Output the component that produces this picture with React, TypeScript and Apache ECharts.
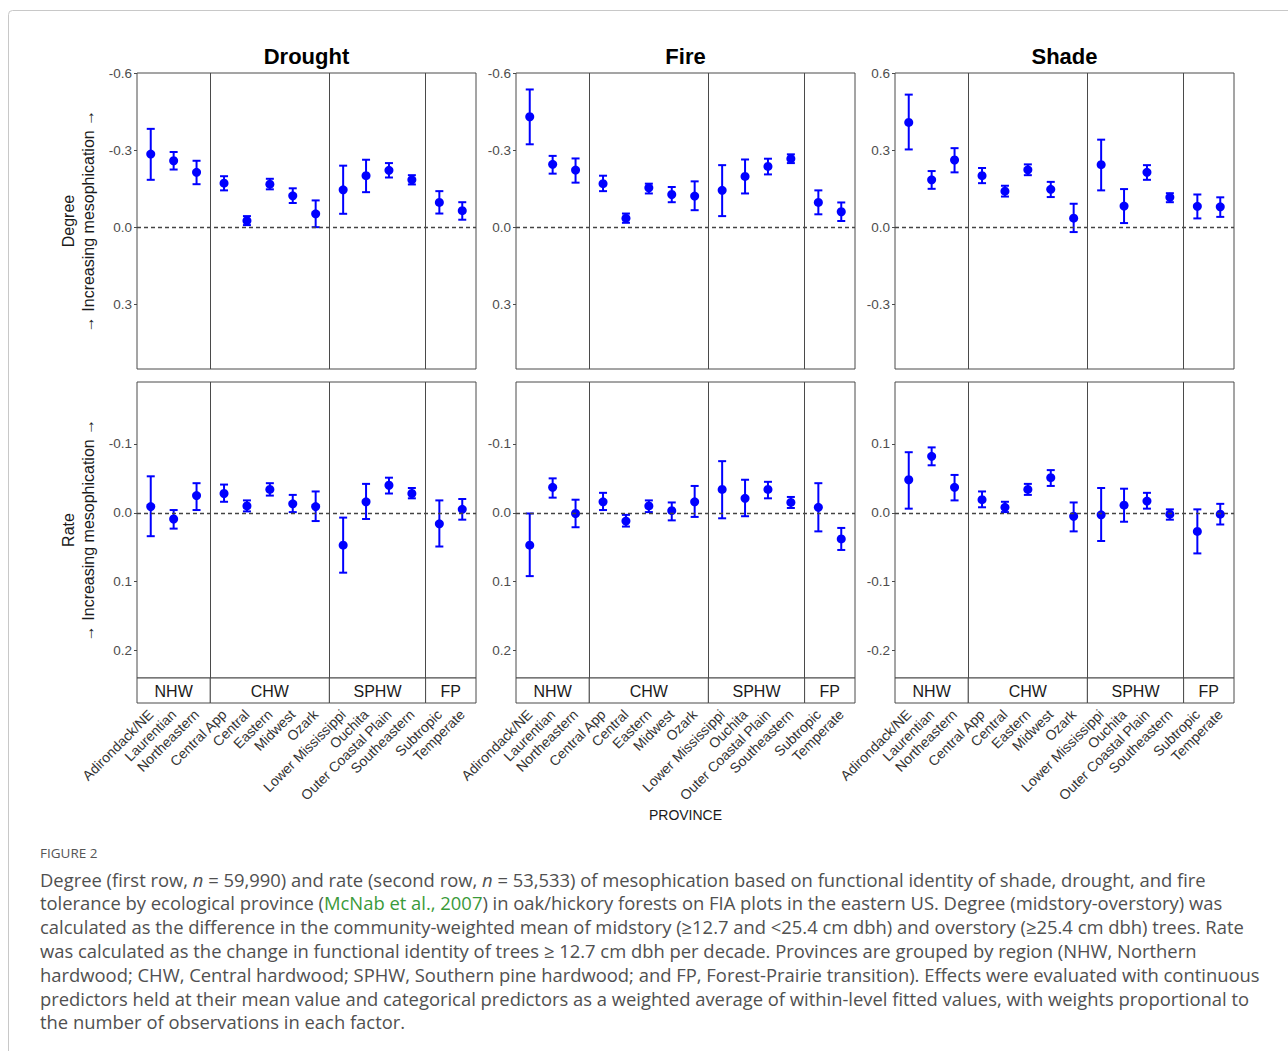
import React, { useEffect, useRef } from "react";
import * as echarts from "echarts";

// ---------------- DATA ----------------
const provinces = [
  "Adirondack/NE", "Laurentian", "Northeastern",
  "Central App", "Central", "Eastern", "Midwest", "Ozark",
  "Lower Mississippi", "Ouchita", "Outer Coastal Plain", "Southeastern",
  "Subtropic", "Temperate",
];
const regions = ["NHW", "CHW", "SPHW", "FP"];
const regionSizes = [3, 5, 4, 2];
const panelTitles = ["Drought", "Fire", "Shade"];

const degreeTicksNeg = [-0.6, -0.3, 0, 0.3];
const degreeTicksPos = [-0.3, 0, 0.3, 0.6];
const rateTicksNeg = [-0.1, 0, 0.1, 0.2];
const rateTicksPos = [-0.2, -0.1, 0, 0.1];

// Degree (first row)
const droughtDegreeEst = [-0.285, -0.259, -0.214, -0.172, -0.026, -0.168, -0.123, -0.053, -0.146, -0.201, -0.222, -0.185, -0.097, -0.065];
const droughtDegreeLo = [-0.383, -0.293, -0.259, -0.199, -0.044, -0.189, -0.152, -0.105, -0.240, -0.263, -0.250, -0.203, -0.141, -0.098];
const droughtDegreeHi = [-0.185, -0.225, -0.168, -0.144, -0.009, -0.148, -0.095, -0.001, -0.053, -0.137, -0.194, -0.167, -0.054, -0.030];

const fireDegreeEst = [-0.430, -0.245, -0.223, -0.170, -0.036, -0.154, -0.128, -0.122, -0.144, -0.198, -0.237, -0.267, -0.097, -0.061];
const fireDegreeLo = [-0.536, -0.278, -0.268, -0.201, -0.054, -0.170, -0.157, -0.179, -0.242, -0.264, -0.267, -0.284, -0.144, -0.097];
const fireDegreeHi = [-0.323, -0.209, -0.174, -0.141, -0.018, -0.132, -0.098, -0.067, -0.044, -0.132, -0.206, -0.250, -0.051, -0.025];

const shadeDegreeEst = [0.408, 0.185, 0.262, 0.201, 0.141, 0.224, 0.148, 0.036, 0.244, 0.083, 0.214, 0.117, 0.082, 0.080];
const shadeDegreeLo = [0.303, 0.150, 0.214, 0.172, 0.120, 0.203, 0.118, -0.018, 0.144, 0.017, 0.185, 0.098, 0.035, 0.041];
const shadeDegreeHi = [0.516, 0.219, 0.308, 0.231, 0.162, 0.245, 0.177, 0.092, 0.341, 0.149, 0.242, 0.133, 0.128, 0.117];

// Rate (second row)
const droughtRateEst = [-0.009, 0.009, -0.025, -0.028, -0.010, -0.034, -0.013, -0.009, 0.047, -0.016, -0.040, -0.028, 0.016, -0.005];
const droughtRateLo = [-0.053, -0.004, -0.043, -0.041, -0.018, -0.043, -0.026, -0.031, 0.007, -0.042, -0.051, -0.036, -0.018, -0.020];
const droughtRateHi = [0.034, 0.023, -0.004, -0.016, -0.002, -0.025, -0.001, 0.012, 0.087, 0.009, -0.028, -0.021, 0.049, 0.010];

const fireRateEst = [0.047, -0.037, 0.001, -0.016, 0.012, -0.010, -0.003, -0.016, -0.034, -0.021, -0.034, -0.015, -0.008, 0.038];
const fireRateLo = [0.001, -0.050, -0.019, -0.029, 0.003, -0.018, -0.015, -0.039, -0.075, -0.048, -0.045, -0.023, -0.043, 0.022];
const fireRateHi = [0.092, -0.022, 0.021, -0.004, 0.020, -0.001, 0.011, 0.006, 0.008, 0.005, -0.021, -0.007, 0.027, 0.054];

const shadeRateEst = [0.048, 0.082, 0.037, 0.019, 0.008, 0.034, 0.051, -0.005, -0.003, 0.011, 0.017, -0.002, -0.027, -0.002];
const shadeRateLo = [0.006, 0.069, 0.018, 0.008, 0.001, 0.026, 0.039, -0.027, -0.041, -0.013, 0.006, -0.010, -0.059, -0.017];
const shadeRateHi = [0.088, 0.095, 0.055, 0.031, 0.016, 0.042, 0.062, 0.015, 0.036, 0.035, 0.029, 0.005, 0.005, 0.013];

const captionLines = [
  "Degree (first row, {i|n} = 59,990) and rate (second row, {i|n} = 53,533) of mesophication based on functional identity of shade, drought, and fire",
  "tolerance by ecological province ({g|McNab et al., 2007}) in oak/hickory forests on FIA plots in the eastern US. Degree (midstory-overstory) was",
  "calculated as the difference in the community-weighted mean of midstory (≥12.7 and <25.4 cm dbh) and overstory (≥25.4 cm dbh) trees. Rate",
  "was calculated as the change in functional identity of trees ≥ 12.7 cm dbh per decade. Provinces are grouped by region (NHW, Northern",
  "hardwood; CHW, Central hardwood; SPHW, Southern pine hardwood; and FP, Forest-Prairie transition). Effects were evaluated with continuous",
  "predictors held at their mean value and categorical predictors as a weighted average of within-level fitted values, with weights proportional to",
  "the number of observations in each factor.",
];

// ---------------- LAYOUT ----------------
const FONT = "Liberation Sans, Arial, sans-serif";
const CAPTION_FONT = "Open Sans, Noto Sans, sans-serif";
const CAPTION_SIZE = 18.4;
const COL_LEFT = [137, 516, 895];
const ROW_TOP = [73, 382];
const PANEL_W = 339;
const PANEL_H = 296;
const STRIP_H = 25;
const BLUE = "#0000ff";
const EXPAND = 0.6;

// x positions per ggplot free-space facets (discrete expansion 0.6 each side)
const xPos: number[] = [];
const boundaries: number[] = [0];
{
  let off = 0;
  regionSizes.forEach((n) => {
    for (let j = 0; j < n; j++) xPos.push(off + EXPAND + j);
    off += n - 1 + 2 * EXPAND;
    boundaries.push(off);
  });
}
const X_MAX = boundaries[boundaries.length - 1];

type Panel = { est: number[]; lo: number[]; hi: number[]; inverse: boolean; min: number; max: number; ticks: number[] };
const panels: Panel[][] = [
  [
    { est: droughtDegreeEst, lo: droughtDegreeLo, hi: droughtDegreeHi, inverse: true, min: -0.6, max: 0.55, ticks: degreeTicksNeg },
    { est: fireDegreeEst, lo: fireDegreeLo, hi: fireDegreeHi, inverse: true, min: -0.6, max: 0.55, ticks: degreeTicksNeg },
    { est: shadeDegreeEst, lo: shadeDegreeLo, hi: shadeDegreeHi, inverse: false, min: -0.55, max: 0.6, ticks: degreeTicksPos },
  ],
  [
    { est: droughtRateEst, lo: droughtRateLo, hi: droughtRateHi, inverse: true, min: -0.19, max: 0.24, ticks: rateTicksNeg },
    { est: fireRateEst, lo: fireRateLo, hi: fireRateHi, inverse: true, min: -0.19, max: 0.24, ticks: rateTicksNeg },
    { est: shadeRateEst, lo: shadeRateLo, hi: shadeRateHi, inverse: false, min: -0.24, max: 0.19, ticks: rateTicksPos },
  ],
];

function nearestProvince(v: number) {
  let best = 0;
  let bd = Infinity;
  xPos.forEach((p, i) => {
    const d = Math.abs(p - v);
    if (d < bd) { bd = d; best = i; }
  });
  return provinces[best];
}

function buildOption() {
  const grid: any[] = [];
  const xAxis: any[] = [];
  const yAxis: any[] = [];
  const series: any[] = [];
  const graphic: any[] = [];

  // frame
  graphic.push({
    type: "rect",
    shape: { x: 8.5, y: 10.5, width: 1300, height: 1100, r: 4 },
    style: { fill: "none", stroke: "#c8c8c8", lineWidth: 1 },
    silent: true,
  });

  panels.forEach((row, r) => {
    row.forEach((p, c) => {
      const gi = r * 3 + c;
      grid.push({
        left: COL_LEFT[c], top: ROW_TOP[r], width: PANEL_W, height: PANEL_H,
        show: true, borderColor: "#4a4a4a", borderWidth: 1, backgroundColor: "#fff",
      });
      xAxis.push({
        type: "value", gridIndex: gi, min: 0, max: X_MAX,
        axisLine: { show: false }, axisTick: { show: false }, splitLine: { show: false },
        axisLabel: r === 1
          ? {
              show: true, customValues: xPos, rotate: 45, margin: 34,
              fontSize: 14, color: "#333", fontFamily: FONT,
              formatter: (v: number) => nearestProvince(v),
            }
          : { show: false },
      });
      yAxis.push({
        type: "value", gridIndex: gi, min: p.min, max: p.max, inverse: p.inverse,
        axisLine: { show: false }, splitLine: { show: false },
        axisTick: { show: true, customValues: p.ticks, length: 3, lineStyle: { color: "#4a4a4a" } },
        axisLabel: {
          show: true, customValues: p.ticks, margin: 5, fontSize: 13.5, color: "#4d4d4d", fontFamily: FONT,
          formatter: (v: number) => (Math.abs(v) < 1e-9 ? "0.0" : v.toFixed(1)),
        },
      });
      series.push({
        type: "custom", xAxisIndex: gi, yAxisIndex: gi, z: 3,
        data: xPos.map((x, i) => [x, p.lo[i], p.hi[i]]),
        encode: { x: 0, y: [1, 2] },
        renderItem: (params: any, api: any) => {
          const x = api.value(0);
          const a = api.coord([x, api.value(1)]);
          const b = api.coord([x, api.value(2)]);
          const w = 4;
          const st = { stroke: BLUE, lineWidth: 2 };
          return {
            type: "group",
            children: [
              { type: "line", shape: { x1: a[0], y1: a[1], x2: b[0], y2: b[1] }, style: st },
              { type: "line", shape: { x1: a[0] - w, y1: a[1], x2: a[0] + w, y2: a[1] }, style: st },
              { type: "line", shape: { x1: b[0] - w, y1: b[1], x2: b[0] + w, y2: b[1] }, style: st },
            ],
          };
        },
        silent: true,
      });
      series.push({
        type: "scatter", xAxisIndex: gi, yAxisIndex: gi, z: 4,
        data: xPos.map((x, i) => [x, p.est[i]]),
        symbol: "circle", symbolSize: 9, itemStyle: { color: BLUE, opacity: 1 },
        silent: true,
        markLine: {
          silent: true, symbol: "none", animation: false,
          label: { show: false },
          data: [
            { yAxis: 0, lineStyle: { type: [4, 3], color: "#444", width: 1.3 } },
            ...boundaries.slice(1, -1).map((b) => ({ xAxis: b, lineStyle: { type: "solid", color: "#4a4a4a", width: 1 } })),
          ],
        },
      });

      // strip below bottom-row panels
      if (r === 1) {
        const top = ROW_TOP[1] + PANEL_H;
        const scale = PANEL_W / X_MAX;
        regions.forEach((name, k) => {
          const x0 = COL_LEFT[c] + boundaries[k] * scale;
          const x1 = COL_LEFT[c] + boundaries[k + 1] * scale;
          graphic.push({
            type: "rect", silent: true,
            shape: { x: x0, y: top, width: x1 - x0, height: STRIP_H },
            style: { fill: "#fff", stroke: "#4a4a4a", lineWidth: 1 },
          });
          graphic.push({
            type: "text", silent: true, x: (x0 + x1) / 2, y: top + STRIP_H / 2 + 1,
            style: { text: name, fontSize: 16, fontFamily: FONT, fill: "#1a1a1a", textAlign: "center", textVerticalAlign: "middle" },
          });
        });
      }
    });
  });

  // titles
  panelTitles.forEach((t, c) => {
    graphic.push({
      type: "text", silent: true, x: COL_LEFT[c] + PANEL_W / 2, y: 56,
      style: { text: t, fontSize: 22, fontWeight: "bold", fontFamily: FONT, fill: "#000", textAlign: "center", textVerticalAlign: "middle" },
    });
  });

  // y names
  const yNames = ["Degree", "Rate"];
  yNames.forEach((n, r) => {
    const cy = ROW_TOP[r] + PANEL_H / 2;
    graphic.push({
      type: "text", silent: true, x: 68, y: cy, rotation: Math.PI / 2,
      style: { text: n, fontSize: 16, fontFamily: FONT, fill: "#1a1a1a", textAlign: "center", textVerticalAlign: "middle" },
    });
    graphic.push({
      type: "text", silent: true, x: 88, y: cy, rotation: Math.PI / 2,
      style: { text: "→ Increasing mesophication →", fontSize: 16, fontFamily: FONT, fill: "#1a1a1a", textAlign: "center", textVerticalAlign: "middle" },
    });
  });

  // x name
  graphic.push({
    type: "text", silent: true, x: (COL_LEFT[0] + COL_LEFT[2] + PANEL_W) / 2, y: 815,
    style: { text: "PROVINCE", fontSize: 14, fontFamily: FONT, fill: "#1a1a1a", textAlign: "center", textVerticalAlign: "middle" },
  });

  // caption
  graphic.push({
    type: "text", silent: true, x: 40, y: 853,
    style: { text: "FIGURE 2", fontSize: 13.5, fontFamily: CAPTION_FONT, fill: "#555", textAlign: "left", textVerticalAlign: "middle" },
  });
  captionLines.forEach((line, k) => {
    graphic.push({
      type: "text", silent: true, x: 40, y: 879 + k * 23.8,
      style: {
        text: line, fontSize: CAPTION_SIZE, fontFamily: CAPTION_FONT, fill: "#505050", textAlign: "left", textVerticalAlign: "middle",
        rich: {
          i: { fontStyle: "italic", fontSize: CAPTION_SIZE, fontFamily: CAPTION_FONT, fill: "#505050" },
          g: { fontSize: CAPTION_SIZE, fontFamily: CAPTION_FONT, fill: "#3a9a3a" },
        },
      },
    });
  });

  return {
    animation: false,
    backgroundColor: "#fff",
    textStyle: { fontFamily: FONT },
    grid, xAxis, yAxis, series, graphic,
  };
}

export default function App() {
  const ref = useRef<HTMLDivElement>(null);
  useEffect(() => {
    if (!ref.current) return;
    const chart = echarts.init(ref.current, undefined, { renderer: "svg" });
    chart.setOption(buildOption() as any);
    return () => chart.dispose();
  }, []);
  return (
    <div
      ref={ref}
      style={{ position: "absolute", left: 0, top: 0, width: 1288, height: 1051, background: "#fff" }}
    />
  );
}
